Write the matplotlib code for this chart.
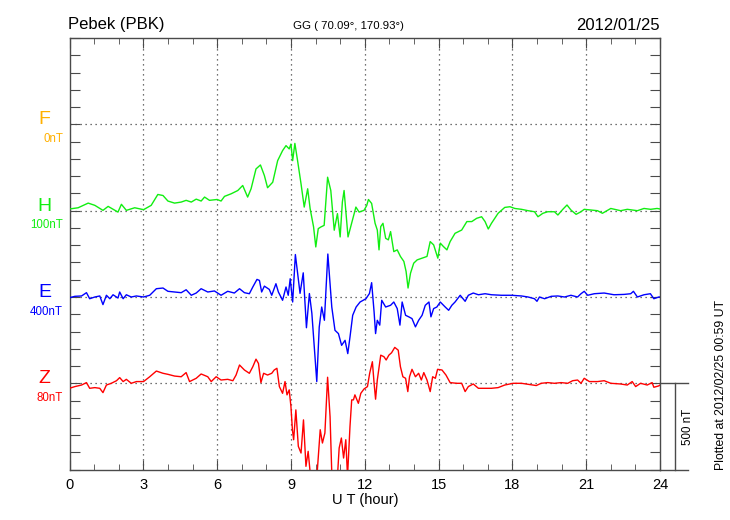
import matplotlib
matplotlib.use('Agg')
import matplotlib.pyplot as plt
import numpy as np

plt.rcParams['font.family'] = ['Liberation Sans', 'DejaVu Sans']

# ---------------- data ----------------
station = "Pebek (PBK)"
coords = "GG ( 70.09°, 170.93°)"
date = "2012/01/25"
plotted = "Plotted at 2012/02/25 00:59 UT"

components = ["F", "H", "E", "Z"]
baselines = [2000, 1500, 1000, 500]
offset_labels = ["0nT", "100nT", "400nT", "80nT"]
colors = ["#FFB000", "#11EE11", "#0000FF", "#FF0000"]

h_hours = [0.00, 0.35, 0.76, 1.03, 1.36, 1.57, 1.97, 2.11, 2.31, 2.65, 3.01, 3.32, 3.59, 3.80, 4.00,
           4.27, 4.54, 4.74, 4.95, 5.15, 5.35, 5.49, 5.69, 6.00, 6.16, 6.30, 6.57, 6.84, 7.04, 7.24,
           7.38, 7.58, 7.76, 7.92, 8.05, 8.26, 8.46, 8.66, 8.80, 8.93, 9.00, 9.07, 9.16, 9.27, 9.41,
           9.54, 9.68, 9.78, 9.92, 10.01, 10.11, 10.22, 10.35, 10.49, 10.62, 10.76, 10.89, 11.00,
           11.09, 11.16, 11.32, 11.50, 11.64, 11.77, 11.97, 12.08, 12.15, 12.28, 12.42, 12.51,
           12.58, 12.65, 12.74, 12.85, 12.96, 13.05, 13.18, 13.32, 13.45, 13.59, 13.68, 13.76,
           13.86, 13.99, 14.13, 14.33, 14.53, 14.66, 14.80, 14.97, 15.07, 15.20, 15.34, 15.47,
           15.67, 15.94, 16.15, 16.35, 16.55, 16.75, 16.89, 17.02, 17.15, 17.42, 17.69, 17.90,
           18.10, 18.37, 18.64, 18.90, 19.04, 19.24, 19.44, 19.71, 19.85, 20.05, 20.22, 20.38,
           20.59, 20.79, 20.92, 21.19, 21.46, 21.66, 22.00, 22.40, 22.67, 23.08, 23.35, 23.62,
           23.88, 24.00]
h_nT = [10, 17, 44, 31, 2, 25, -8, 37, 2, 17, 6, 31, 94, 88, 56,
        44, 50, 60, 50, 67, 56, 79, 60, 65, 56, 83, 98, 117, 146, 79,
        127, 242, 265, 204, 133, 165, 290, 348, 377, 358, 386, 290, 390, 290, 156,
        21, 127, 12, -94, -210, -104, -94, -85, 194, 117, -113, -17, -152,
        50, 117, -152, -56, 21, -8, 2, 30, 65, 42, -73, -112,
        -227, -92, -73, -160, -169, -121, -237, -227, -265, -294, -352, -448,
        -362, -304, -285, -275, -265, -179, -198, -275, -188, -208, -227, -179,
        -131, -112, -63, -63, -44, -35, -63, -106, -73, -15, 19, 23,
        13, 8, 0, -6, -35, -15, -6, -6, -25, 8, 33, 4,
        -21, -6, 8, 4, 0, -15, 13, 0, 8, 0, 13, 8,
        13, 10]

e_hours = [0.00, 0.22, 0.49, 0.69, 0.82, 1.03, 1.23, 1.36, 1.50, 1.64, 1.77, 1.97, 2.04, 2.18, 2.31,
           2.51, 2.72, 3.01, 3.26, 3.53, 3.80, 4.00, 4.27, 4.54, 4.74, 4.95, 5.15, 5.35, 5.62, 5.89,
           6.16, 6.43, 6.70, 6.91, 7.11, 7.31, 7.45, 7.62, 7.72, 7.81, 7.92, 8.12, 8.22, 8.39, 8.49,
           8.66, 8.80, 8.89, 8.97, 9.07, 9.18, 9.37, 9.50, 9.63, 9.75, 9.85, 10.05, 10.15, 10.25,
           10.36, 10.50, 10.66, 10.79, 10.93, 11.06, 11.20, 11.31, 11.40, 11.51, 11.65, 11.81,
           12.05, 12.19, 12.28, 12.38, 12.44, 12.51, 12.61, 12.69, 12.85, 13.05, 13.18, 13.32,
           13.43, 13.52, 13.66, 13.79, 13.92, 14.06, 14.19, 14.33, 14.46, 14.61, 14.69, 14.80,
           14.93, 15.07, 15.27, 15.41, 15.54, 15.67, 15.88, 16.08, 16.21, 16.41, 16.62, 16.89,
           17.15, 17.56, 17.96, 18.37, 18.64, 18.90, 19.00, 19.10, 19.31, 19.58, 19.85, 20.12,
           20.38, 20.65, 20.79, 20.92, 21.06, 21.33, 21.73, 22.13, 22.54, 22.81, 22.92, 23.08,
           23.35, 23.61, 23.75, 23.95, 24.00]
e_nT = [-4, 4, 6, 25, -10, 0, 6, -44, 10, -10, 13, -6, 29, -10, 13,
        0, 6, 0, 10, 48, 52, 33, 29, 25, 42, 10, 23, 48, 29, 35,
        10, 33, 23, 48, 25, 19, 58, 102, 96, 29, 63, 44, 10, 77, 29,
        -19, 58, 10, 106, -29, 246, 21, 140, -178, 20, -94, -490, -174, -58,
        -135, 249, -58, -193, -212, -280, -251, -328, -232, -106, -58, -29,
        -10, 20, 83, -87, -212, -135, -163, -19, -58, -48, -29, -67,
        -163, -29, -106, -115, -125, -173, -135, -106, -48, -29, -115, -67,
        -58, -29, -58, -77, -48, -29, 10, -25, 10, 23, 13, 19,
        13, 10, 10, 6, 0, -10, -25, 0, -10, 4, 6, 0,
        10, 0, 19, 33, 10, 19, 23, 13, 15, 19, 33, 0,
        13, 19, -10, 0, 0]

z_hours = [0.00, 0.22, 0.49, 0.69, 0.82, 1.03, 1.23, 1.36, 1.50, 1.70, 1.91, 2.04, 2.18, 2.31, 2.51,
           2.72, 3.01, 3.26, 3.53, 3.80, 4.00, 4.27, 4.54, 4.74, 4.88, 5.15, 5.35, 5.62, 5.76, 5.96,
           6.16, 6.43, 6.64, 6.77, 6.91, 7.11, 7.31, 7.45, 7.58, 7.68, 7.78, 7.89, 8.05, 8.22, 8.32,
           8.43, 8.53, 8.66, 8.76, 8.84, 8.93, 9.00, 9.06, 9.11, 9.20, 9.30, 9.41, 9.51, 9.61, 9.70,
           9.81, 9.94, 10.05, 10.19, 10.28, 10.38, 10.49, 10.59, 10.66, 10.75, 10.89, 10.96, 11.05,
           11.14, 11.23, 11.30, 11.40, 11.47, 11.54, 11.60, 11.74, 11.84, 11.97, 12.11, 12.20,
           12.31, 12.38, 12.44, 12.51, 12.65, 12.78, 12.87, 12.98, 13.09, 13.22, 13.36, 13.45,
           13.55, 13.66, 13.75, 13.82, 13.92, 14.06, 14.19, 14.30, 14.40, 14.53, 14.66, 14.76,
           14.87, 14.96, 15.14, 15.30, 15.47, 15.74, 15.94, 16.08, 16.21, 16.41, 16.62, 16.89,
           17.15, 17.42, 17.69, 18.03, 18.37, 18.64, 18.97, 19.17, 19.44, 19.71, 19.98, 20.25,
           20.45, 20.65, 20.79, 20.92, 21.13, 21.46, 21.73, 22.00, 22.40, 22.67, 22.87, 23.01,
           23.21, 23.48, 23.68, 23.75, 23.95, 24.00]
z_nT = [-29, -19, -10, 4, -29, -25, -29, -54, -10, 0, 15, 33, 10, 23, 0,
        10, 10, 38, 71, 58, 52, 42, 38, 62, 10, 29, 54, 38, 10, 38,
        19, 23, 15, 48, 106, 77, 58, 96, 140, 115, 4, 58, 48, 58, 77,
        87, -19, -58, 10, -67, -38, -135, -270, -327, -154, -365, -404, -212, -481, -394,
        -560, -540, -550, -269, -346, -288, 35, -193, -520, -580, -540, -375, -317,
        -433, -327, -540, -250, -96, -96, -67, -116, -58, -33, -19, 58,
        125, 0, -92, 19, 163, 154, 135, 163, 177, 208, 192, 96,
        38, 29, -48, 38, 81, 38, 58, 19, 62, 19, -48, 38,
        29, 81, 77, 48, 4, 0, 0, -48, -19, -4, -29, -29,
        -29, -25, -10, 0, 0, -6, -13, 0, 4, 0, 4, 0,
        15, 19, 0, 29, 10, 10, 15, 0, -4, -10, 10, -19,
        0, -10, 4, -23, -15, -10]

x_major = [0, 3, 6, 9, 12, 15, 18, 21, 24]
scale_nT = 500

# ---------------- figure ----------------
W, H = 730, 520
fig = plt.figure(figsize=(W / 100, H / 100), dpi=100)
ax = fig.add_axes([69.5 / W, 50.4 / H, 590.5 / W, 431.5 / H])
ax.set_xlim(0, 24)
ax.set_ylim(0, 2500)

frame = '#4a4a4a'
for s in ax.spines.values():
    s.set_color(frame)
    s.set_linewidth(1.0)

# grid
for xv in x_major[1:-1]:
    ax.axvline(xv, color='#444444', lw=0.9, ls=(0, (1, 3)), zorder=1)
for b in baselines:
    ax.axhline(b, color='#444444', lw=0.9, ls=(0, (1, 3)), zorder=1)

# traces
ax.plot(h_hours, baselines[1] + np.array(h_nT), color=colors[1], lw=1.0, zorder=3)
ax.plot(e_hours, baselines[2] + np.array(e_nT), color=colors[2], lw=1.0, zorder=3)
ax.plot(z_hours, baselines[3] + np.array(z_nT), color=colors[3], lw=1.0, zorder=3)

# ticks
ax.set_xticks(x_major)
ax.set_xticklabels([str(v) for v in x_major])
ax.set_xticks(np.arange(0, 25, 1), minor=True)
ax.set_yticks(np.arange(0, 2501, 100))
ax.set_yticklabels([])
ax.tick_params(axis='x', which='major', direction='in', length=7, top=True, bottom=True,
               color=frame, labelsize=10.5, pad=6)
ax.tick_params(axis='x', which='minor', direction='in', length=4, top=True, bottom=True, color=frame)
ax.tick_params(axis='y', which='major', direction='in', length=7, left=True, right=True, color=frame)
ax.set_xlabel("U T (hour)", fontsize=10.5, labelpad=1)

# component labels
for comp, b, lab, c in zip(components, baselines, offset_labels, colors):
    ax.text(-1.02, b, comp, ha='center', va='baseline', fontsize=14, color=c, clip_on=False)
    ax.text(-0.26, b - 103, lab, ha='right', va='baseline', fontsize=8.3, color=c, clip_on=False)

# scale bar
ax.plot([24, 25.15], [scale_nT, scale_nT], color=frame, lw=1.0, clip_on=False)
ax.plot([24, 25.15], [0, 0], color=frame, lw=1.0, clip_on=False)
ax.plot([24.6, 24.6], [0, scale_nT], color=frame, lw=1.0, clip_on=False)
ax.text(25.15, scale_nT / 2, f"{scale_nT} nT", rotation=90, ha='center', va='center',
        fontsize=8.3, clip_on=False)

# header texts
fig.text(68 / W, 1 - 29.5 / H, station, ha='left', va='baseline', fontsize=12)
fig.text(348 / W, 1 - 29 / H, coords, ha='center', va='baseline', fontsize=8.2)
fig.text(660 / W, 1 - 29.5 / H, date, ha='right', va='baseline', fontsize=12)
fig.text(721 / W, 1 - 470 / H, plotted, rotation=90, ha='center', va='bottom', fontsize=8.8)

fig.savefig('out.png', dpi=100)
